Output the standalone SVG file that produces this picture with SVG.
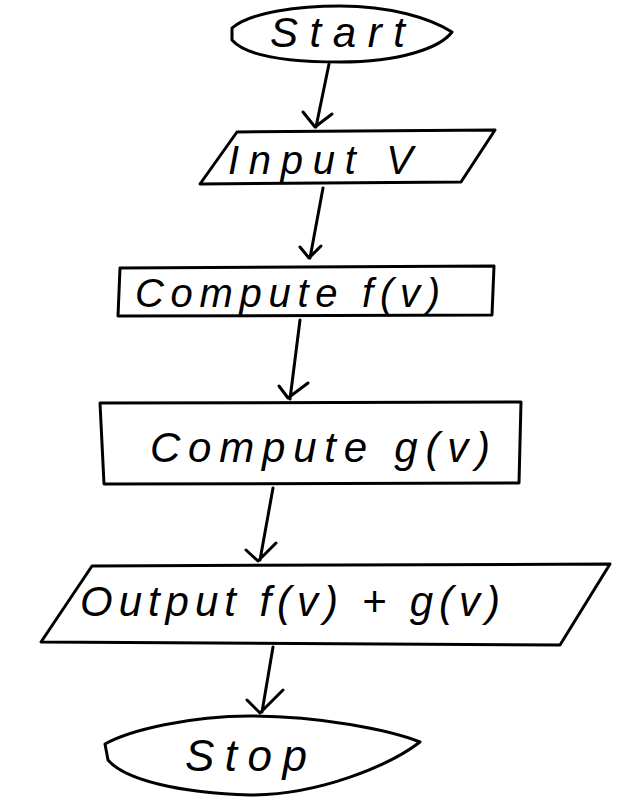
<svg xmlns="http://www.w3.org/2000/svg" width="640" height="800" viewBox="0 0 640 800">
<style>
.s{fill:none;stroke:#000;stroke-width:3;stroke-linecap:round;stroke-linejoin:round}
.t{font-family:"Liberation Sans","DejaVu Sans",sans-serif;font-style:italic;fill:#000}
</style>
<rect width="640" height="800" fill="#fff"/>
<g id="start">
<path class="s" d="M232,28 C250,12 300,6 340,6 C390,6 430,18 452,32 C440,48 400,62 340,62 C285,62 245,55 232,40 Z"/>
<text class="t" x="270" y="47" font-size="42" textLength="135" lengthAdjust="spacing">Start</text>
</g>
<g id="input">
<path class="s" d="M237,132 L495,130 L461,182 L200,184 Z"/>
<text class="t" x="228" y="174" font-size="40" textLength="185" lengthAdjust="spacing">Input V</text>
</g>
<g id="computeF">
<path class="s" d="M120,268 L494,266 L492,315 L118,316 Z"/>
<text class="t" x="135" y="307" font-size="40" textLength="305" lengthAdjust="spacing">Compute f(v)</text>
</g>
<g id="computeG">
<path class="s" d="M100,403 L521,402 L519,483 L104,484 Z"/>
<text class="t" x="150" y="462" font-size="42" textLength="340" lengthAdjust="spacing">Compute g(v)</text>
</g>
<g id="output">
<path class="s" d="M92,566 L610,564 L560,645 L41,642 Z"/>
<text class="t" x="80" y="616" font-size="42" textLength="420" lengthAdjust="spacing">Output f(v) + g(v)</text>
</g>
<g id="stop">
<path class="s" d="M105,744 C130,730 190,716 250,716 C320,716 390,730 420,742 C390,765 320,795 250,795 C180,793 125,780 108,760 Z"/>
<text class="t" x="185" y="771" font-size="44" textLength="122" lengthAdjust="spacing">Stop</text>
</g>
<g id="connectors">
<path class="s" d="M329,64 L316,127 M303,112 L315,127 L332,114"/>
<path class="s" d="M323,188 L310,258 M300,247 L309,258 L321,246"/>
<path class="s" d="M300,320 L290,399 M279,386 L288,398 L308,383"/>
<path class="s" d="M273,488 L260,560 M246,550 L258,561 L276,543"/>
<path class="s" d="M273,647 L262,712 M247,700 L260,713 L283,690"/>
</g>
</svg>
